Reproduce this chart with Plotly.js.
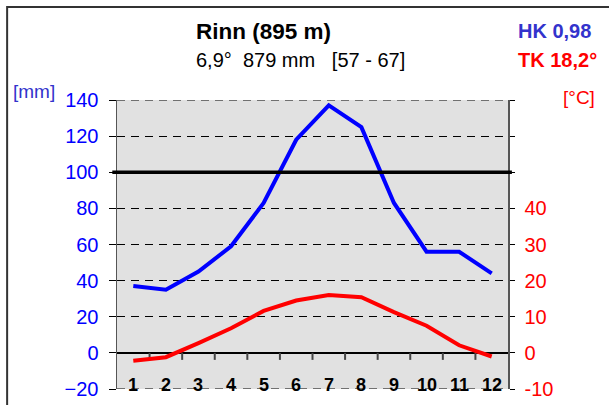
<!DOCTYPE html>
<html>
<head>
<meta charset="utf-8">
<script src="https://cdn.plot.ly/plotly-3.0.1.min.js"></script>
<style>
  html, body { margin: 0; padding: 0; background: #ffffff; }
  #chart { width: 609px; height: 405px; }
</style>
</head>
<body>
<div id="chart"></div>
<script>
// ---- data ----
const months = [1, 2, 3, 4, 5, 6, 7, 8, 9, 10, 11, 12];
const monthLabels = ["1", "2", "3", "4", "5", "6", "7", "8", "9", "10", "11", "12"];
const precipitation = [37, 35, 45, 59, 83, 118, 137, 125, 83, 56, 56, 44];   // mm
const temperature = [-2.2, -1.2, 2.7, 6.8, 11.6, 14.5, 16.0, 15.4, 11.3, 7.5, 2.1, -1.0]; // °C
const precipTicks = [-20, 0, 20, 40, 60, 80, 100, 120, 140];
const tempTicks = [-10, 0, 10, 20, 30, 40, 50, 60, 70];
const tempTickText = ["-10", "0", "10", "20", "30", "40", "", "", ""];
const boundaries = [1.5, 2.5, 3.5, 4.5, 5.5, 6.5, 7.5, 8.5, 9.5, 10.5, 11.5];
const humidLine = 100; // mm
const stationTitle = "Rinn (895 m)";
const stationInfo = "6,9°&nbsp;&nbsp;879 mm&nbsp;&nbsp;&nbsp;[57 - 67]";
const hkText = "HK 0,98";
const tkText = "TK 18,2°";

const FONT = "Liberation Sans, Arial, Helvetica, sans-serif";
const GRID_DASH = "8px,6px";
const W = 609, H = 405;
const M = { l: 117, r: 101, t: 100, b: 16, pad: 0 };
const X_RANGE = [0.5, 12.5];
const Y_RANGE = [precipTicks[0], precipTicks[precipTicks.length - 1]];
const PLOT_H = H - M.t - M.b;
const BOUNDARY_TICK_PX = 7;
const tickLenMm = BOUNDARY_TICK_PX * (Y_RANGE[1] - Y_RANGE[0]) / PLOT_H;

// month-boundary tick marks hanging below the 0 mm line (drawn as a line trace)
const tickX = boundaries.flatMap(b => [b, b, null]);
const tickY = boundaries.flatMap(() => [0, -tickLenMm, null]);

const edgeTrace = v => ({
  x: X_RANGE, y: [v, v], type: "scatter", mode: "lines", cliponaxis: false,
  line: { color: "#000000", width: 1, dash: GRID_DASH },
  xaxis: "x", yaxis: "y", hoverinfo: "skip", showlegend: false
});

const traces = [
  edgeTrace(Y_RANGE[0]),
  edgeTrace(Y_RANGE[1]),
  {
    x: tickX, y: tickY, type: "scatter", mode: "lines", connectgaps: false,
    line: { color: "#444444", width: 2 }, xaxis: "x", yaxis: "y",
    hoverinfo: "skip", showlegend: false
  },
  {
    x: months, y: precipitation, type: "scatter", mode: "lines",
    line: { color: "#0000ff", width: 4 }, xaxis: "x", yaxis: "y",
    hoverinfo: "skip", showlegend: false
  },
  {
    x: months, y: temperature, type: "scatter", mode: "lines",
    line: { color: "#ff0000", width: 4 }, xaxis: "x", yaxis: "y2",
    hoverinfo: "skip", showlegend: false
  }
];

const monthAnnotations = months.map((m, i) => ({
  x: m, y: Y_RANGE[0], xref: "x", yref: "y", text: monthLabels[i],
  showarrow: false, xanchor: "center", yanchor: "bottom", yshift: -8,
  font: { family: FONT, size: 18, color: "#000000", weight: "bold" }
}));

const textAnn = [
  { text: "<b>" + stationTitle + "</b>", x: 0.196, y: 1.238, xanchor: "left", yanchor: "middle",
    font: { family: FONT, size: 22.5, color: "#000000" } },
  { text: stationInfo, x: 0.196, y: 1.140, xanchor: "left", yanchor: "middle",
    font: { family: FONT, size: 20, color: "#000000" } },
  { text: "<b>" + hkText + "</b>", x: 1.020, y: 1.240, xanchor: "left", yanchor: "middle",
    font: { family: FONT, size: 20, color: "#3333cc" } },
  { text: "<b>" + tkText + "</b>", x: 1.020, y: 1.140, xanchor: "left", yanchor: "middle",
    font: { family: FONT, size: 20, color: "#ff0000" } },
  { text: "[mm]", x: -0.272, y: 1.030, xanchor: "left", yanchor: "middle",
    font: { family: FONT, size: 19, color: "#3333cc" } },
  { text: "[°C]", x: 1.136, y: 1.010, xanchor: "left", yanchor: "middle",
    font: { family: FONT, size: 19, color: "#ff0000" } }
].map(a => Object.assign({ xref: "paper", yref: "paper", showarrow: false }, a));

const layout = {
  width: W, height: H,
  margin: M,
  paper_bgcolor: "#ffffff",
  plot_bgcolor: "#e1e1e1",
  showlegend: false,
  font: { family: FONT },
  xaxis: {
    range: X_RANGE, showticklabels: false, ticks: "",
    showgrid: false, zeroline: false, showline: false
  },
  yaxis: {
    range: Y_RANGE, tickmode: "array", tickvals: precipTicks,
    ticks: "outside", ticklen: 7, tickwidth: 1, tickcolor: "#000000",
    tickfont: { family: FONT, size: 20, color: "#0000ff" },
    ticklabelstandoff: 6,
    showgrid: true, gridcolor: "#000000", gridwidth: 1, griddash: GRID_DASH,
    zeroline: true, zerolinecolor: "#000000", zerolinewidth: 1.5,
    showline: true, linecolor: "#555555", linewidth: 1.5
  },
  yaxis2: {
    overlaying: "y", side: "right", range: [tempTicks[0], tempTicks[tempTicks.length - 1]],
    tickmode: "array", tickvals: tempTicks, ticktext: tempTickText,
    ticks: "outside", ticklen: 5, tickwidth: 1, tickcolor: "#000000",
    tickfont: { family: FONT, size: 20, color: "#ff0000" },
    ticklabelstandoff: 6,
    showgrid: false, zeroline: false,
    showline: true, linecolor: "#555555", linewidth: 1.5
  },
  shapes: [
    { type: "line", xref: "paper", yref: "y", x0: -0.012, x1: 1.01, y0: humidLine, y1: humidLine,
      line: { color: "#000000", width: 3.5 }, layer: "above" },
    { type: "rect", xref: "paper", yref: "paper", x0: -0.281, x1: 1.30, y0: -0.1, y1: 1.322,
      line: { color: "#333333", width: 2 }, fillcolor: "rgba(0,0,0,0)", layer: "above" }
  ],
  annotations: monthAnnotations.concat(textAnn)
};

Plotly.newPlot("chart", traces, layout, { staticPlot: true, displayModeBar: false });
</script>
</body>
</html>
